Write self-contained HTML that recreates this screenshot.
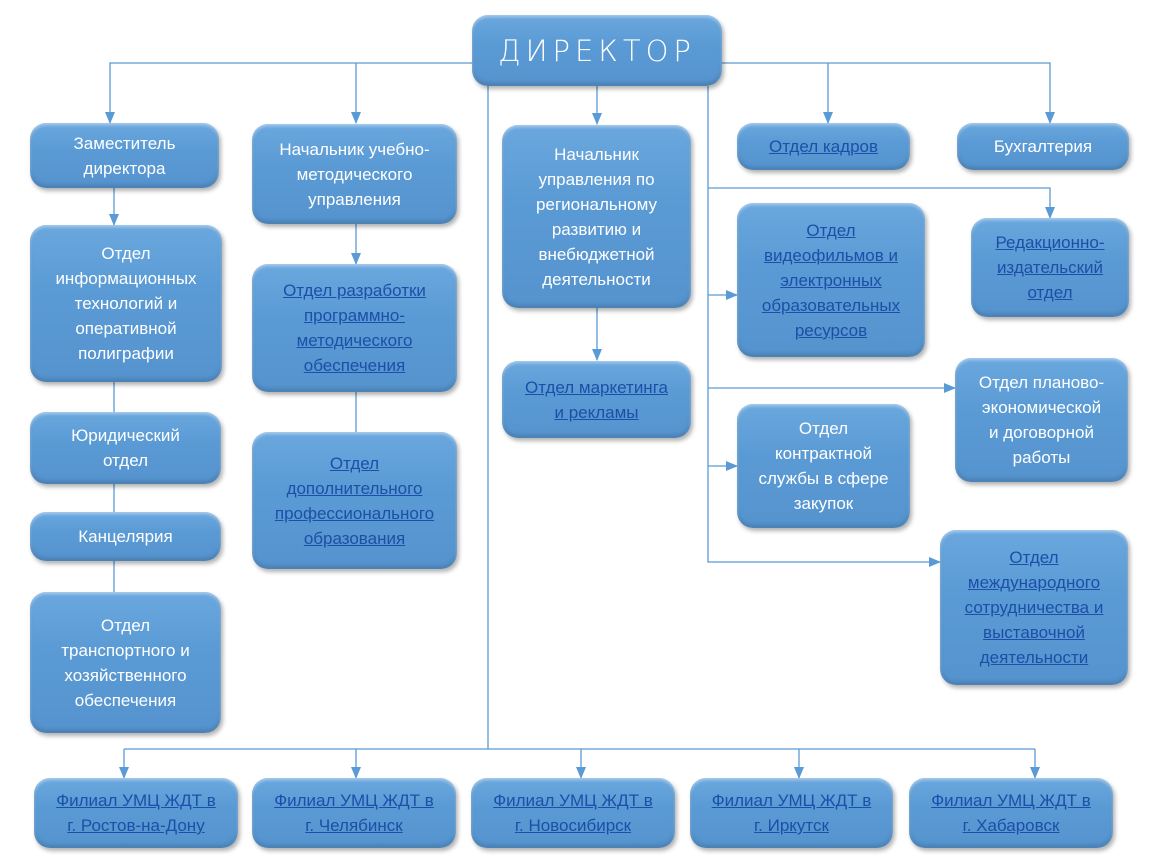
<!DOCTYPE html>
<html><head><meta charset="utf-8"><style>
body{margin:0;width:1155px;height:864px;background:#fff;position:relative;overflow:hidden;font-family:"Liberation Sans","DejaVu Sans",sans-serif}
.b{position:absolute;box-sizing:border-box;border-radius:16px;background:linear-gradient(#6aa7de,#5b9bd5 40%,#5593ce);box-shadow:inset 0 2px 3px rgba(255,255,255,.45),inset 0 -3px 4px rgba(0,0,0,.15),2px 3px 4px rgba(0,0,0,.3);display:flex;align-items:center;justify-content:center;text-align:center;color:#fff;font-size:17px;line-height:25px;padding:0 4px}
.l{color:#1c4fa8;text-decoration:underline}
svg{position:absolute;left:0;top:0}
</style></head><body>
<svg width="1155" height="864">
<defs><marker id="a" markerWidth="12" markerHeight="10" refX="11" refY="5" orient="auto" markerUnits="userSpaceOnUse"><path d="M0,0L12,5L0,10z" fill="#5b9bd5"/></marker></defs>
<g stroke="#5b9bd5" stroke-width="1.3" fill="none">
<path d="M472,63H110V123" marker-end="url(#a)"/>
<path d="M356,63V123" marker-end="url(#a)"/>
<path d="M722,63H1050V123" marker-end="url(#a)"/>
<path d="M828,63V123" marker-end="url(#a)"/>
<path d="M597,86V124" marker-end="url(#a)"/>
<path d="M114,188V225" marker-end="url(#a)"/>
<path d="M114,382V592"/>
<path d="M356,224V264" marker-end="url(#a)"/>
<path d="M356,392V432"/>
<path d="M597,308V360" marker-end="url(#a)"/>
<path d="M488,86V749"/>
<path d="M124,749H1035"/>
<path d="M124,749V778" marker-end="url(#a)"/>
<path d="M356,749V778" marker-end="url(#a)"/>
<path d="M581,749V778" marker-end="url(#a)"/>
<path d="M799,749V778" marker-end="url(#a)"/>
<path d="M1035,749V778" marker-end="url(#a)"/>
<path d="M708,86V562H940" marker-end="url(#a)"/>
<path d="M708,188H1050V218" marker-end="url(#a)"/>
<path d="M708,295H737" marker-end="url(#a)"/>
<path d="M708,388H955" marker-end="url(#a)"/>
<path d="M708,466H737" marker-end="url(#a)"/>
</g></svg>
<div class="b" style="left:472px;top:15px;width:250px;height:71px;font-size:29px;letter-spacing:5px;font-family:'DejaVu Sans',sans-serif;font-weight:200;padding-top:2px">ДИРЕКТОР</div>
<div class="b" style="left:30px;top:123px;width:189px;height:65px">Заместитель<br>директора</div>
<div class="b" style="left:30px;top:225px;width:192px;height:157px">Отдел<br>информационных<br>технологий и<br>оперативной<br>полиграфии</div>
<div class="b" style="left:30px;top:412px;width:191px;height:72px">Юридический<br>отдел</div>
<div class="b" style="left:30px;top:512px;width:191px;height:49px">Канцелярия</div>
<div class="b" style="left:30px;top:592px;width:191px;height:141px">Отдел<br>транспортного и<br>хозяйственного<br>обеспечения</div>
<div class="b" style="left:252px;top:124px;width:205px;height:100px">Начальник учебно-<br>методического<br>управления</div>
<div class="b" style="left:252px;top:264px;width:205px;height:128px"><span class="l">Отдел разработки<br>программно-<br>методического<br>обеспечения</span></div>
<div class="b" style="left:252px;top:432px;width:205px;height:137px"><span class="l">Отдел<br>дополнительного<br>профессионального<br>образования</span></div>
<div class="b" style="left:502px;top:125px;width:189px;height:183px">Начальник<br>управления по<br>региональному<br>развитию и<br>внебюджетной<br>деятельности</div>
<div class="b" style="left:502px;top:361px;width:189px;height:77px"><span class="l">Отдел маркетинга<br>и рекламы</span></div>
<div class="b" style="left:737px;top:123px;width:173px;height:47px"><span class="l">Отдел кадров</span></div>
<div class="b" style="left:957px;top:123px;width:172px;height:47px">Бухгалтерия</div>
<div class="b" style="left:737px;top:203px;width:188px;height:154px"><span class="l">Отдел<br>видеофильмов и<br>электронных<br>образовательных<br>ресурсов</span></div>
<div class="b" style="left:971px;top:218px;width:158px;height:99px"><span class="l">Редакционно-<br>издательский<br>отдел</span></div>
<div class="b" style="left:955px;top:358px;width:173px;height:124px">Отдел планово-<br>экономической<br>и договорной<br>работы</div>
<div class="b" style="left:737px;top:404px;width:173px;height:124px">Отдел<br>контрактной<br>службы в сфере<br>закупок</div>
<div class="b" style="left:940px;top:530px;width:188px;height:155px"><span class="l">Отдел<br>международного<br>сотрудничества и<br>выставочной<br>деятельности</span></div>
<div class="b" style="left:34px;top:778px;width:204px;height:70px"><span class="l">Филиал УМЦ ЖДТ в<br>г. Ростов-на-Дону</span></div>
<div class="b" style="left:252px;top:778px;width:204px;height:70px"><span class="l">Филиал УМЦ ЖДТ в<br>г. Челябинск</span></div>
<div class="b" style="left:471px;top:778px;width:204px;height:70px"><span class="l">Филиал УМЦ ЖДТ в<br>г. Новосибирск</span></div>
<div class="b" style="left:690px;top:778px;width:203px;height:70px"><span class="l">Филиал УМЦ ЖДТ в<br>г. Иркутск</span></div>
<div class="b" style="left:909px;top:778px;width:204px;height:70px"><span class="l">Филиал УМЦ ЖДТ в<br>г. Хабаровск</span></div>
</body></html>
